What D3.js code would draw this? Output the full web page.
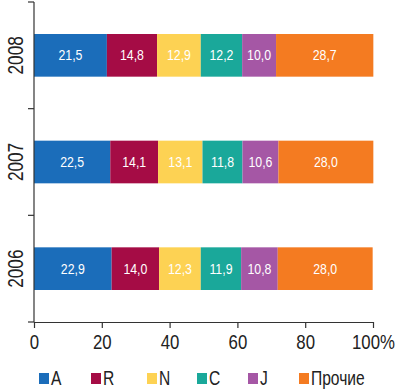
<!DOCTYPE html>
<html>
<head>
<meta charset="utf-8">
<script src="https://cdn.jsdelivr.net/npm/d3@7"></script>
<style>
  body { margin: 0; background: #fff; }
  svg { display: block; }
  text { font-family: "Liberation Sans", Arial, sans-serif; }
</style>
</head>
<body>
<svg id="chart" width="400" height="389"></svg>
<script>
// years from top to bottom
var years = ['2008', '2007', '2006'];
var series = ['A', 'R', 'N', 'C', 'J', 'Прочие'];
var colors = ['#1b6dba', '#a50c45', '#fdd253', '#1aa89a', '#a557a5', '#f47b21'];

var valA = [21.5, 22.5, 22.9];
var valR = [14.8, 14.1, 14.0];
var valN = [12.9, 13.1, 12.3];
var valC = [12.2, 11.8, 11.9];
var valJ = [10.0, 10.6, 10.8];
var valOther = [28.7, 28.0, 28.0];

var xTicks = [0, 20, 40, 60, 80, 100];

var svg = d3.select('#chart');
var mLeft = 34, mRight = 373, mTop = 2, mBottom = 322;
var squeeze = 'scale(0.8,1)'; // the original uses a condensed face

var x = d3.scaleLinear().domain([0, 100]).range([mLeft, mRight]);
var y = d3.scaleBand().domain(years).range([mTop, mBottom]).paddingInner(0.6).paddingOuter(0.3);
var yb = d3.scaleBand().domain(years).range([mTop, mBottom]);

var columns = [valA, valR, valN, valC, valJ, valOther];
var rows = years.map(function(yr, i) {
  var o = {year: yr};
  series.forEach(function(s, j) { o[s] = columns[j][i]; });
  return o;
});

var stacked = d3.stack().keys(series)(rows);

var layer = svg.selectAll('g.layer').data(stacked).enter().append('g')
  .attr('class', 'layer')
  .attr('fill', function(d, i) { return colors[i]; });

layer.selectAll('rect').data(function(d) { return d; }).enter().append('rect')
  .attr('x', function(d) { return x(d[0]); })
  .attr('y', function(d) { return y(d.data.year); })
  .attr('width', function(d) { return x(d[1]) - x(d[0]); })
  .attr('height', y.bandwidth());

layer.selectAll('text').data(function(d) { return d.map(function(p) { return {p: p, key: d.key}; }); })
  .enter().append('text')
  .attr('transform', function(d) {
    var cx = (x(d.p[0]) + x(d.p[1])) / 2;
    var cy = y(d.p.data.year) + y.bandwidth() / 2 + 5;
    return 'translate(' + cx + ',' + cy + ') scale(0.85,1)';
  })
  .attr('text-anchor', 'middle')
  .attr('fill', '#fff')
  .attr('font-size', 14.5)
  .text(function(d) { return d3.format('.1f')(d.p.data[d.key]).replace('.', ','); });

// x axis
var xAxis = d3.axisBottom(x).tickValues(xTicks).tickSize(6).tickSizeOuter(0)
  .tickFormat(function(d) { return d === 100 ? '100%' : d; });
var gx = svg.append('g').attr('transform', 'translate(0,' + mBottom + ')').call(xAxis);
gx.select('.domain').attr('stroke', '#333').attr('stroke-width', 1.2);
gx.selectAll('.tick line').attr('stroke', '#333').attr('stroke-width', 1.2);
gx.selectAll('.tick text').attr('font-size', 21).attr('fill', '#222').attr('dy', '0.75em').attr('y', 11)
  .attr('font-family', '"Liberation Sans", Arial, sans-serif')
  .attr('transform', squeeze);

// y axis: ticks at band boundaries
var boundaries = years.map(function(yr) { return yb(yr); }).concat([mBottom]);
svg.append('line').attr('x1', mLeft).attr('x2', mLeft).attr('y1', mTop).attr('y2', mBottom)
  .attr('stroke', '#333').attr('stroke-width', 1.2);
svg.selectAll('line.ytick').data(boundaries).enter().append('line')
  .attr('class', 'ytick')
  .attr('x1', mLeft - 6).attr('x2', mLeft)
  .attr('y1', function(d) { return d; }).attr('y2', function(d) { return d; })
  .attr('stroke', '#333').attr('stroke-width', 1.2);

svg.selectAll('text.year').data(years).enter().append('text')
  .attr('class', 'year')
  .attr('transform', function(d) { return 'translate(22.5,' + (y(d) + y.bandwidth() / 2) + ') rotate(-90) ' + squeeze; })
  .attr('text-anchor', 'middle')
  .attr('font-size', 21.5)
  .attr('fill', '#222')
  .text(function(d) { return d; });

// legend
var legendX = [39, 91, 147, 197, 248, 299];
var lg = svg.selectAll('g.legend').data(series).enter().append('g')
  .attr('class', 'legend')
  .attr('transform', function(d, i) { return 'translate(' + legendX[i] + ',373)'; });
lg.append('rect').attr('width', 10).attr('height', 11)
  .attr('fill', function(d, i) { return colors[i]; });
lg.append('text').attr('transform', 'translate(12,11.5) ' + squeeze)
  .attr('font-size', 19.5).attr('fill', '#222')
  .text(function(d) { return d; });
</script>
</body>
</html>
